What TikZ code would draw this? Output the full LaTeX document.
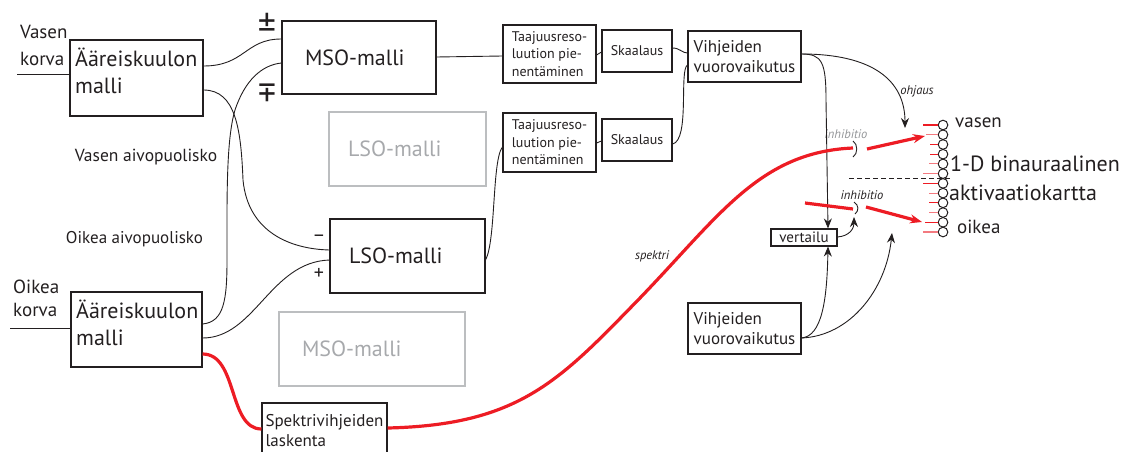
\documentclass[tikz,border=0pt]{standalone}
\usepackage{fontspec}
\setmainfont{PT Sans}
\usepackage{graphicx}
\usetikzlibrary{arrows.meta}
\definecolor{ink}{HTML}{231F20}
\definecolor{sig}{HTML}{ED1C24}
\definecolor{sigl}{HTML}{F37A80}
\definecolor{boxgray}{HTML}{BCBEC0}
\definecolor{txtgray}{HTML}{A7A9AC}
\definecolor{labgray}{HTML}{939598}
\newcommand\fbig{\fontsize{22}{27}\selectfont}
\newcommand\fear{\fontsize{19}{27}\selectfont}
\newcommand\fmid{\fontsize{17}{20}\selectfont}
\newcommand\fsml{\fontsize{14}{17.5}\selectfont}
\newcommand\flab{\fontsize{12.5}{14}\selectfont\itshape}
\tikzset{
  box/.style={draw=ink, line width=1.1pt, inner sep=0pt, text=ink},
  ghost/.style={draw=boxgray, line width=1.1pt, inner sep=0pt, text=txtgray},
  txt/.style={text=ink, inner sep=0pt, align=left},
  sign/.style={text=ink, inner sep=0pt, font=\fontsize{36}{36}\selectfont},
  wire/.style={draw=ink, line width=0.9pt},
  arr/.style={wire, -{Stealth[length=10pt,width=8pt]}},
  redw/.style={draw=sig, line width=3.2pt},
  reda/.style={redw, -{Stealth[length=12pt,width=9pt]}},
  dot/.style={circle, draw=ink, line width=1pt, minimum size=9.6pt, inner sep=0pt},
  tickr/.style={line width=1.1pt},
}
\begin{document}
\begin{tikzpicture}[x=1pt,y=-1pt]
\useasboundingbox (0,0) rectangle (1121,452);

% ---------- boxes ----------
\node[box, minimum width=133, minimum height=76] (earL) at (136.5,78) {};
\node[txt, anchor=west, font=\fbig] (earLt) at (75,71) {Ääreiskuulon\\malli};
\node[box, minimum width=131, minimum height=75] (earR) at (136.5,329.5) {};
\node[txt, anchor=west, font=\fbig] (earRt) at (76,323) {Ääreiskuulon\\malli};

\node[txt, anchor=west, font=\fear] (vk) at (20,45) {Vasen\\korva};
\node[txt, anchor=west, font=\fontsize{19}{23}\selectfont] (ok) at (13,298) {Oikea\\korva};
\coordinate (inL) at (17,74);
\coordinate (inR) at (10,328);

\node[txt, font=\fontsize{17.5}{20}\selectfont] (va) at (146,157) {Vasen aivopuolisko};
\node[txt, font=\fmid] (oa) at (134.5,239) {Oikea aivopuolisko};

\node[box, minimum height=73, inner xsep=23, text width=108, align=left, font=\fbig] (mso) at (359,57.5) {MSO-malli};
\node[ghost, minimum height=74, inner xsep=19, text width=119, align=left, font=\fbig] (lsoG) at (407.5,149) {LSO-malli};
\node[box, minimum height=74, inner xsep=19, text width=117, align=left, font=\fbig] (lso) at (407.5,256) {LSO-malli};
\node[ghost, minimum height=74, inner xsep=23, text width=140, align=left, font=\fbig] (msoG) at (372,349) {MSO-malli};

\node[sign] (pm1) at (267,25.5) {±};
\node[sign] (pm2) at (267,90) {\rotatebox{180}{±}};
\node[txt, font=\fontsize{20}{20}\selectfont] (mi) at (319,238) {–};
\node[txt, font=\fontsize{20}{20}\selectfont] (pl) at (319,274) {+};

\node[box, minimum width=93, minimum height=58, align=left, font=\fsml] (ta1) at (549.5,54) {Taajuusreso-\\luution pie-\\nentäminen};
\node[box, minimum width=70, minimum height=42, font=\fsml] (sk1) at (637,51) {Skaalaus};
\node[box, minimum width=93, minimum height=59, align=left, font=\fsml] (ta2) at (549.5,142.5) {Taajuusreso-\\luution pie-\\nentäminen};
\node[box, minimum width=70, minimum height=42, font=\fsml] (sk2) at (637,140) {Skaalaus};
\node[box, minimum width=113, minimum height=51, align=left, font=\fmid] (vih1) at (744.5,56.5) {Vihjeiden\\vuorovaikutus};
\node[box, minimum width=113, minimum height=51, align=left, font=\fmid] (vih2) at (744.5,328.5) {Vihjeiden\\vuorovaikutus};
\node[box, minimum width=66, minimum height=17, font=\fontsize{15}{15}\selectfont] (vert) at (804,237.5) {vertailu};
\node[box, minimum width=125, minimum height=55, align=left, font=\fmid] (spek) at (324.5,430.5) {Spektrivihjeiden\\laskenta};

% ---------- activation map ----------
\foreach \i/\l/\c in {0/15/sig,1/12/sigl,2/8/sig,3/8/sig,4/9/sigl,5/15/sigl,6/15/sig,7/9/sigl,8/9/sig,9/9/sigl,10/13/sig,11/15/sigl}{
  \node[dot] (c\i) at (943,{125+\i*9.73}) {};
  \draw[tickr, draw=\c] (c\i.west) -- ++(-\l,0);
}
\draw[wire, dash pattern=on 5pt off 3pt] (849,178) -- (952,178);
\node[txt, anchor=west, font=\fontsize{19}{19}\selectfont] (lv) at (955,123) {vasen};
\node[txt, anchor=west, font=\fbig] (l1d) at (950,164) {1-D binauraalinen};
\node[txt, anchor=west, font=\fbig] (lak) at (949,193) {aktivaatiokartta};
\node[txt, anchor=west, font=\fontsize{19}{19}\selectfont] (lo) at (957,227) {oikea};

% ---------- labels ----------
\node[txt, font=\flab] (ohj) at (917,91) {ohjaus};
\node[txt, font=\flab, text=labgray] (inh1) at (846,134) {inhibitio};
\node[txt, font=\flab] (inh2) at (862,195) {inhibitio};
\node[txt, font=\flab] (spk) at (652,256) {spektri};

% ---------- black connectors ----------
\draw[wire] (inL) -- (earL.west |- inL);
\draw[wire] (inR) -- (earR.west |- inR);
\draw[wire] (earL.east |- 0,66) .. controls (245,66) and (245,39) .. (mso.west |- 0,39);
\draw[wire] (earL.east |- 0,90) .. controls (236,90) and (241,130) .. (243,180) .. controls (248,232) and (290,249) .. (lso.west |- 0,250);
\draw[wire] (earR.east |- 0,324) .. controls (224,322) and (227,300) .. (227,260) .. controls (227,200) and (226,140) .. (235,110) .. controls (245,80) and (262,65) .. (mso.west |- 0,63);
\draw[wire] (earR.east |- 0,338) .. controls (255,338) and (270,262) .. (lso.west |- 0,260);
\draw[wire] (mso.east |- 0,57) -- (ta1.west |- 0,56);
\draw[wire] (lso.east |- 0,260) .. controls (496,240) and (492,160) .. (ta2.west |- 0,147);
\draw[wire] (ta1.east |- 0,55) -- (sk1.west |- 0,52);
\draw[wire] (ta2.east |- 0,143) -- (sk2.west |- 0,141);
\draw[wire] (sk1.east |- 0,48) .. controls (680,48) and (682,53) .. (vih1.west |- 0,53);
\draw[wire] (sk2.east |- 0,144) .. controls (690,140) and (679,70) .. (vih1.west |- 0,65);
\draw[arr] (vih1.east |- 0,54) .. controls (872,54) and (905,80) .. (905,128);
\draw[arr] (vih1.east |- 0,54) .. controls (822,54) and (826,62) .. (826,100) -- (828,0 |- vert.north);
\draw[arr] (vert.east |- 0,237) .. controls (850,236) and (854,228) .. (854,217);
\draw[arr] (vih2.east |- 0,338) .. controls (822,336) and (827,300) .. (828,0 |- vert.south);
\draw[arr] (vih2.east |- 0,338) .. controls (850,336) and (886,290) .. (892,233);
\draw[wire] (853,141) .. controls (858,144) and (858,154) .. (853,157);
\draw[wire] (854,202) .. controls (859,205) and (859,211) .. (855,214);

% ---------- red ----------
\coordinate (g1a) at (853,148);
\coordinate (g1b) at (867,149);
\coordinate (t1) at (925,136);
\coordinate (s2) at (805,203);
\coordinate (g2a) at (853,209);
\coordinate (g2b) at (866,207);
\coordinate (t2) at (922,222);
\draw[redw] (earR.east |- 0,354) .. controls (238,354) and (228,429) .. (spek.west |- 0,429);
\draw[redw] (spek.east |- 0,428) .. controls (520,425) and (560,380) .. (640,298) .. controls (720,215) and (760,152) .. (g1a);
\draw[reda] (g1b) -- (t1);
\draw[redw] (s2) -- (g2a);
\draw[reda] (g2b) -- (t2);
\end{tikzpicture}
\end{document}
